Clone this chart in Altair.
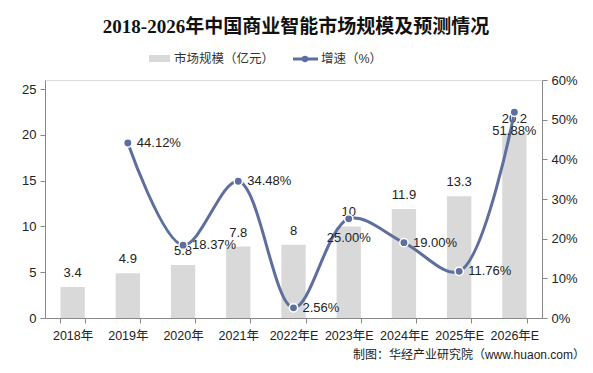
import altair as alt
import pandas as pd

years = ["2018年", "2019年", "2020年", "2021年", "2022年E", "2023年E", "2024年E", "2025年E", "2026年E"]
market = [3.4, 4.9, 5.8, 7.8, 8, 10, 11.9, 13.3, 20.2]
growth = [None, 44.12, 18.37, 34.48, 2.56, 25.00, 19.00, 11.76, 51.88]
below_labels = ["2023年E", "2026年E"]

df = pd.DataFrame({"year": years, "market": market, "growth": growth})
df["gpct"] = df["growth"] / 100
df["glabel"] = df["growth"].map(lambda v: "" if pd.isna(v) else f"{v:.2f}%")
df["mlabel"] = df["market"].map(lambda v: f"{v:g}")

W, H = 497, 238
LINE = "#5E6E9E"
BAR = "#D9D9D9"
FONT = "Liberation Sans, Noto Sans CJK SC"

x = alt.X("year:N", sort=years, title=None,
          scale=alt.Scale(paddingInner=0.56, paddingOuter=0.28),
          axis=alt.Axis(labelAngle=0, tickBand="extent", labelFontSize=12.5,
                        labelColor="#222", domainColor="#888", tickColor="#888",
                        tickSize=5, labelPadding=6, labelFont=FONT))

base = alt.Chart(df)

bars = base.mark_bar(color=BAR).encode(
    x=x,
    y=alt.Y("market:Q", title=None, scale=alt.Scale(domain=[0, 25]),
            axis=alt.Axis(values=[0, 5, 10, 15, 20, 25], grid=False, labelFontSize=13,
                          labelColor="#222", domainColor="#888", tickColor="#888",
                          tickSize=5, labelPadding=4, labelFont=FONT)),
)
bar_text = base.mark_text(baseline="bottom", dy=-7, fontSize=13, color="#222", font=FONT).encode(
    x=alt.X("year:N", sort=years), y=alt.Y("market:Q"), text="mlabel:N")
left = alt.layer(bars, bar_text)

gdf = base.transform_filter("datum.growth != null")
yr = alt.Y("gpct:Q", title=None, scale=alt.Scale(domain=[0, 0.6]),
           axis=alt.Axis(orient="right", format=".0%", values=[0, 0.1, 0.2, 0.3, 0.4, 0.5, 0.6],
                         labelOverlap=False, grid=False, labelFontSize=13, labelColor="#222",
                         domainColor="#888", tickColor="#888", tickSize=5, labelPadding=4,
                         labelFont=FONT))
xs = alt.X("year:N", sort=years)
line = gdf.mark_line(color=LINE, strokeWidth=3, interpolate="catmull-rom").encode(x=xs, y=yr)
pts = gdf.mark_point(filled=True, size=70, color=LINE, stroke="white", strokeWidth=1.5, opacity=1).encode(
    x=xs, y=yr)
cond_below = "indexof(%s, datum.year) >= 0" % str(below_labels).replace("'", '"')
lab_right = gdf.transform_filter("!(" + cond_below + ")").mark_text(
    align="left", baseline="middle", dx=9, fontSize=13, color="#222", font=FONT).encode(
    x=xs, y=yr, text="glabel:N")
lab_below = gdf.transform_filter(cond_below).mark_text(
    align="center", baseline="middle", dy=19, fontSize=13, color="#222", font=FONT).encode(
    x=xs, y=yr, text="glabel:N")
right = alt.layer(line, pts, lab_right, lab_below)

deco = pd.DataFrame({"k": [0]})
dbase = alt.Chart(deco)
title = dbase.mark_text(text="2018-2026年中国商业智能市场规模及预测情况", fontSize=19, fontWeight="bold",
                        font="Liberation Serif, Noto Sans CJK SC", color="#111", align="center",
                        baseline="middle").encode(x=alt.value(251), y=alt.value(-53))
leg_rect = dbase.mark_rect(color=BAR).encode(x=alt.value(104), x2=alt.value(125),
                                               y=alt.value(-25), y2=alt.value(-18))
leg_t1 = dbase.mark_text(text="市场规模（亿元）", fontSize=12.5, font=FONT, color="#333",
                         align="left", baseline="middle").encode(x=alt.value(129), y=alt.value(-21))
leg_line = dbase.mark_rule(color=LINE, strokeWidth=3).encode(x=alt.value(248), x2=alt.value(273),
                                                            y=alt.value(-21))
leg_pt = dbase.mark_point(filled=True, size=40, color=LINE, opacity=1).encode(x=alt.value(260), y=alt.value(-21))
leg_t2 = dbase.mark_text(text="增速（%）", fontSize=12.5, font=FONT, color="#333",
                         align="left", baseline="middle").encode(x=alt.value(276), y=alt.value(-21))
source = dbase.mark_text(text="制图：华经产业研究院（www.huaon.com）", fontSize=12, font=FONT, color="#222",
                         align="right", baseline="middle").encode(x=alt.value(540), y=alt.value(275))
deco_layer = alt.layer(title, leg_rect, leg_t1, leg_line, leg_pt, leg_t2, source)

chart = alt.layer(left, right, deco_layer).resolve_scale(y="independent").properties(
    width=W, height=H,
    autosize=alt.AutoSizeParams(type="none"),
    padding={"left": 37, "top": 72, "right": 43, "bottom": 47},
).configure_view(stroke=None).configure(background="white")

chart.save("out.html", embed_options={"renderer": "svg", "actions": False})
